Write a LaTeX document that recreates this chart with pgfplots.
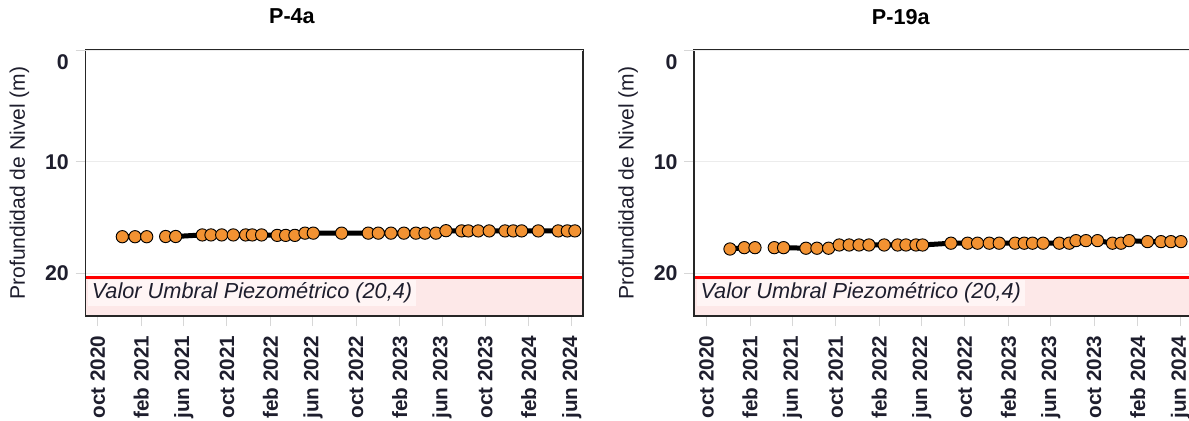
\documentclass[border=0pt]{standalone}
\usepackage{pgfplots}
\usepackage{pgfplotstable}
\pgfplotsset{compat=1.18}
\usepackage{fontspec}
\setmainfont{Liberation Sans}
\definecolor{dotc}{RGB}{242,146,50}
\definecolor{pinkc}{RGB}{253,232,232}
\definecolor{boxc}{RGB}{255,245,245}
\definecolor{gridc}{RGB}{236,236,236}
\definecolor{txtc}{RGB}{30,30,45}
\definecolor{tickc}{RGB}{215,215,215}

% x = days since 1 Oct 2020, y = depth (m)
\pgfplotstableread{
x y
69.5 16.72
105.4 16.72
138.4 16.72
nan nan
192 16.70
220.3 16.70
295.5 16.56
320 16.56
350.3 16.56
383 16.56
418 16.56
436.7 16.56
463 16.56
507 16.60
531 16.60
557 16.60
585.6 16.40
609 16.40
689 16.40
764.4 16.40
792.7 16.40
828.5 16.40
865 16.40
899 16.40
924.6 16.40
955.6 16.40
983.9 16.18
1028 16.20
1047 16.20
1075 16.20
1106 16.20
1150.6 16.20
1174 16.20
1197.7 16.20
1244.6 16.20
1301 16.20
1326.6 16.20
1348 16.20
}\leftdata

\pgfplotstableread{
x y
66.4 17.82
106.8 17.70
137 17.70
nan nan
191.5 17.70
217.8 17.70
281 17.75
312 17.75
345 17.75
375 17.46
403 17.46
431 17.46
459 17.46
502 17.46
540 17.46
563.6 17.46
591.8 17.46
610.5 17.46
690.7 17.30
737.6 17.30
765.8 17.30
798.9 17.30
827 17.30
872 17.30
897.7 17.30
921 17.30
951 17.30
996.6 17.30
1024.9 17.30
1043.8 17.07
1072 17.07
1104.8 17.07
1147 17.30
1171 17.30
1194 17.07
1246 17.16
1284 17.16
1312 17.16
1340.4 17.16
}\rightdata

\newcommand\fs{\fontsize{15.5}{18}\selectfont}

\pgfplotsset{panel/.style={
  scale only axis, width=373.1pt, height=199.5pt, anchor=south west,
  xmin=-34.5, xmax=1370.9, ymin=0, ymax=23.82, y dir=reverse,
  axis on top,
  /pgf/number format/assume math mode=true,
  axis line style={line width=1.3pt, color=black!85},
  ytick={10,20},
  extra y ticks={0},
  extra y tick style={yticklabel style={yshift=-8.8pt}},
  ymajorgrids, grid style={gridc, line width=0.75pt},
  xtick={0,123,243,365,488,608,730,853,973,1095,1218,1339},
  xticklabels={oct 2020,feb 2021,jun 2021,oct 2021,feb 2022,jun 2022,oct 2022,feb 2023,jun 2023,oct 2023,feb 2024,jun 2024},
  tick align=outside, major tick length=7.5pt,
  tick style={tickc, line width=0.75pt},
  xtick pos=bottom, ytick pos=left,
  x tick label style={rotate=90, anchor=east, xshift=-3.8pt, font=\bfseries\fs, text=txtc},
  y tick label style={font=\bfseries\fontsize{16}{18}\selectfont, text=txtc, xshift=-1.5pt},
  ylabel={Profundidad de Nivel (m)},
  ylabel style={font=\fontsize{15.8}{18}\selectfont, text=txtc, yshift=-10pt},
  title style={at={(axis description cs:0.415,1)}, anchor=center, yshift=19pt, font=\bfseries\fontsize{16.2}{18}\selectfont, text=black},
  unbounded coords=jump,
}}

\newcommand\umbral{%
  \fill[pinkc] (axis cs:-34.5,20.4) rectangle (axis cs:1370.9,23.82);
  \draw[red, line width=2.25pt] (axis cs:-34.5,20.4) -- (axis cs:1370.9,20.4);
  \node[anchor=north west, fill=boxc, inner xsep=3pt, inner ysep=2.2pt, font=\itshape\fontsize{16.3}{18}\selectfont, text=txtc, xshift=1.5pt, yshift=-1.2pt] at (axis cs:-34.5,20.4) {Valor Umbral Piezométrico (20,4)};
}

\begin{document}
\begin{tikzpicture}
\begin{axis}[panel, at={(64.125pt,78.75pt)}, title={P-4a}]
  \umbral
  \addplot[black, line width=3.75pt, mark=*, mark size=4.6pt, mark options={fill=dotc, draw=black, line width=0.7pt, solid}] table {\leftdata};
\end{axis}
\begin{axis}[panel, at={(520.7pt,78.75pt)}, title={P-19a}]
  \umbral
  \addplot[black, line width=3.75pt, mark=*, mark size=4.6pt, mark options={fill=dotc, draw=black, line width=0.7pt, solid}] table {\rightdata};
\end{axis}
\pgfresetboundingbox
\path[use as bounding box] (0,0) rectangle (891.75pt,315.75pt);
\end{tikzpicture}
\end{document}
